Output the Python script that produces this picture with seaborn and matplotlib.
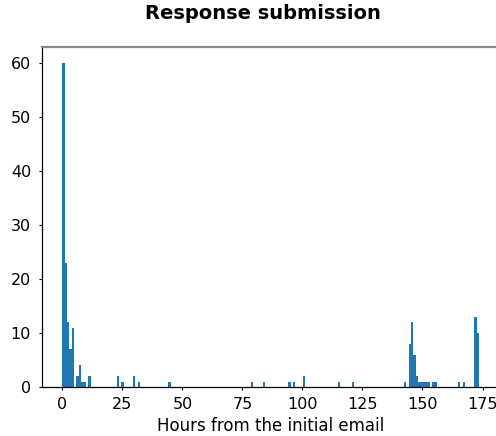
import numpy as np
import pandas as pd
import matplotlib
matplotlib.use("Agg")
import matplotlib.pyplot as plt
import seaborn as sns

# Estimated response-time values (hours) and number of responses at each
hours = [0.49, 1.47, 2.45, 3.43, 4.41, 6.37, 7.36, 8.34, 9.32, 11.28,
         23.05, 25.01, 29.91, 31.87, 44.63, 78.95, 83.86, 94.65, 96.61, 100.53,
         115.24, 121.13, 142.70, 144.66, 145.64, 146.62, 147.60, 148.58, 149.56,
         150.54, 151.52, 152.50, 154.46, 155.45, 165.25, 167.21, 172.12, 173.11]
counts = [60, 23, 12, 7, 11, 2, 4, 1, 1, 2,
          2, 1, 2, 1, 1, 1, 1, 1, 1, 2,
          1, 1, 1, 8, 12, 6, 2, 1, 1,
          1, 1, 1, 1, 1, 1, 1, 13, 10]

title = "Response submission"
xlabel = "Hours from the initial email"
xticks = [0, 25, 50, 75, 100, 125, 150, 175]
yticks = [0, 10, 20, 30, 40, 50, 60]

df = pd.DataFrame({"hours": hours, "count": counts})

fig = plt.figure(figsize=(4.96, 4.36), dpi=100)
ax = fig.add_axes([41.5 / 496, 1 - 387 / 436, (500 - 41.5) / 496, (387 - 47) / 436])

sns.histplot(data=df, x="hours", weights="count", bins=177, binrange=(0, 173.6),
             color="#1f77b4", alpha=1, linewidth=0, edgecolor="none", ax=ax)

ax.set_xticks(xticks)
ax.set_yticks(yticks)
ax.set_ylabel("")
ax.set_xlabel(xlabel, fontsize=12, labelpad=3)
ax.tick_params(labelsize=11.5, length=2.5, width=0.8, pad=5)
ax.spines["right"].set_visible(False)
ax.spines["top"].set_color("#888888")
ax.spines["top"].set_linewidth(1.6)
for s in ("left", "bottom"):
    ax.spines[s].set_linewidth(0.9)

fig.text(263 / 496, 1 - 13.5 / 436, title, ha="center", va="center",
         fontsize=14, fontweight="bold")

fig.savefig("out.png", dpi=100)
